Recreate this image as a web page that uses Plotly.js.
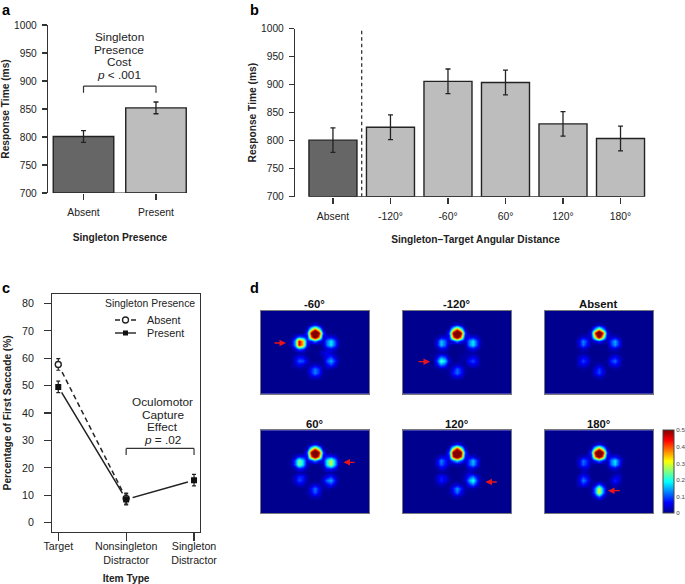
<!DOCTYPE html>
<html>
<head>
<meta charset="utf-8">
<script src="https://cdn.plot.ly/plotly-3.0.1.min.js"></script>
<style>html,body{margin:0;padding:0;background:#fff}#chart{width:685px;height:584px}</style>
</head>
<body>
<div id="chart"></div>
<script>
// ---------- data ----------
var presenceCats = ['Absent', 'Present'];
var presenceRT = [801, 852];
var presenceErr = [10.5, 10.5];

var angleCats = ['Absent', '-120°', '-60°', '60°', '120°', '180°'];
var angleRT = [801, 824, 906, 904, 830, 804];
var angleErr = [22, 22, 22, 22, 22, 22];

var itemCats = ['Target', 'Nonsingleton<br>Distractor', 'Singleton<br>Distractor'];
var absentPct = [57.7, 8.8];
var absentErr = [2.1, 2];
var presentPct = [49.5, 8.5, 15.5];
var presentErr = [2.1, 2, 2.1];

var yTicksRT = [700, 750, 800, 850, 900, 950, 1000];
var yTicksPct = [0, 10, 20, 30, 40, 50, 60, 70, 80];

// heat maps: fixation density in hundredths, read cell by cell
var gridX = [26, 30, 34, 38, 42, 46, 50, 54, 58, 62, 66, 70, 74, 78, 82];
var gridY = [10, 14, 18, 22, 26, 30, 34, 38, 42, 46, 50, 54, 58, 62, 66, 70];
var scaleTicks = [0, 10, 20, 30, 40, 50];
var scaleLabels = ['0', '0.1', '0.2', '0.3', '0.4', '0.5'];

var heatMinus60 = [
[0,0,0,0,0,0,0,0,0,0,0,0,0,0,0],
[0,0,0,0,0,0,2,6,2,0,0,0,0,0,0],
[0,0,0,0,0,2,22,38,22,2,0,0,0,0,0],
[0,0,0,0,0,9,48,70,48,9,0,0,0,0,0],
[0,0,4,11,9,5,38,60,38,4,5,5,3,0,0],
[0,2,14,46,34,7,7,14,7,3,12,18,10,1,0],
[0,2,14,46,34,6,0,0,0,2,12,18,10,1,0],
[0,0,4,11,9,1,0,0,0,1,4,5,3,0,0],
[0,0,0,1,1,0,0,0,1,4,5,3,1,0,0],
[0,0,3,6,5,1,0,0,0,2,6,9,4,0,0],
[0,0,4,11,10,4,0,0,0,1,10,15,8,1,0],
[0,0,3,5,4,1,2,4,2,1,5,9,4,0,0],
[0,0,0,1,0,1,7,12,8,1,1,1,0,0,0],
[0,0,0,0,0,1,7,13,8,1,0,0,0,0,0],
[0,0,0,0,0,0,3,4,3,0,0,0,0,0,0],
[0,0,0,0,0,0,0,0,0,0,0,0,0,0,0]];

var heatMinus120 = [
[0,0,0,0,0,0,0,0,0,0,0,0,0,0,0],
[0,0,0,0,0,0,2,6,2,0,0,0,0,0,0],
[0,0,0,0,0,2,22,38,22,2,0,0,0,0,0],
[0,0,0,0,0,9,48,70,48,9,0,0,0,0,0],
[0,0,1,4,4,5,38,60,38,4,5,5,3,0,0],
[0,0,5,16,11,3,7,14,7,3,12,18,9,1,0],
[0,0,5,16,11,2,0,0,0,1,12,18,9,1,0],
[0,0,1,4,4,0,0,0,0,0,4,5,3,0,0],
[0,0,1,1,1,0,0,0,0,1,1,1,0,0,0],
[0,0,5,12,9,1,0,0,1,1,3,5,3,0,0],
[0,0,9,23,17,4,0,0,1,1,7,10,5,0,0],
[0,0,5,12,9,1,2,3,2,0,3,5,3,0,0],
[0,0,0,1,1,1,5,11,7,1,0,0,0,0,0],
[0,0,0,0,0,1,7,12,7,1,0,0,0,0,0],
[0,0,0,0,0,0,3,4,3,0,0,0,0,0,0],
[0,0,0,0,0,0,0,0,0,0,0,0,0,0,0]];

var heatAbsent = [
[0,0,0,0,0,0,0,0,0,0,0,0,0,0,0],
[0,0,0,0,0,0,1,3,1,0,0,0,0,0,0],
[0,0,0,0,0,1,14,28,14,1,0,0,0,0,0],
[0,0,0,0,0,6,42,68,42,6,0,0,0,0,0],
[0,0,1,4,3,3,30,55,30,3,3,4,1,0,0],
[0,0,5,13,8,1,4,9,4,1,9,15,7,0,0],
[0,0,4,12,6,1,0,0,0,0,8,14,7,0,0],
[0,0,1,3,1,0,0,0,0,0,3,3,1,0,0],
[0,0,0,1,0,0,0,0,0,0,0,1,0,0,0],
[0,0,3,5,4,0,0,0,0,0,4,6,3,0,0],
[0,0,4,10,6,1,0,0,0,1,8,12,5,0,0],
[0,0,3,5,3,0,1,3,1,0,4,6,3,0,0],
[0,0,0,1,0,0,4,9,4,0,0,1,0,0,0],
[0,0,0,0,0,0,5,10,5,0,0,0,0,0,0],
[0,0,0,0,0,0,1,3,1,0,0,0,0,0,0],
[0,0,0,0,0,0,0,0,0,0,0,0,0,0,0]];

var heatPlus60 = [
[0,0,0,0,0,0,0,0,0,0,0,0,0,0,0],
[0,0,0,0,0,0,2,6,2,0,0,0,0,0,0],
[0,0,0,0,0,2,22,38,22,2,0,0,0,0,0],
[0,0,0,0,0,9,48,70,48,9,0,0,0,0,0],
[0,0,2,7,6,5,38,60,38,5,7,8,5,0,0],
[0,1,10,25,17,4,7,14,7,4,19,29,15,2,0],
[0,1,10,25,17,3,0,0,0,3,19,29,15,2,0],
[0,0,2,7,6,1,0,0,0,1,7,8,5,0,0],
[0,0,0,1,1,0,0,0,0,0,1,1,0,0,0],
[0,0,3,8,7,1,0,0,0,1,5,8,3,0,0],
[0,0,4,10,7,1,0,0,0,4,12,15,7,0,0],
[0,0,1,4,3,0,2,4,2,1,5,8,3,0,0],
[0,0,0,0,0,1,6,12,6,1,1,1,0,0,0],
[0,0,0,0,0,1,5,11,5,0,0,0,0,0,0],
[0,0,0,0,0,0,2,3,2,0,0,0,0,0,0],
[0,0,0,0,0,0,0,0,0,0,0,0,0,0,0]];

var heatPlus120 = [
[0,0,0,0,0,0,0,0,0,0,0,0,0,0,0],
[0,0,0,0,0,0,3,8,3,0,0,0,0,0,0],
[0,0,0,0,0,3,26,44,26,3,0,0,0,0,0],
[0,0,0,0,0,10,50,70,50,10,0,0,0,0,0],
[0,0,1,4,4,6,44,65,44,6,4,4,1,0,0],
[0,0,4,13,8,3,11,18,11,3,9,16,8,0,0],
[0,0,4,11,7,2,1,2,1,1,9,15,7,0,0],
[0,0,1,4,3,0,0,0,0,0,3,4,1,0,0],
[0,0,0,1,0,0,0,0,0,1,3,1,0,0,0],
[0,0,3,7,5,1,0,0,0,3,8,12,5,0,0],
[0,0,3,8,5,1,0,0,0,3,14,21,9,1,0],
[0,0,1,3,1,0,2,4,2,1,7,12,5,0,0],
[0,0,0,0,0,1,7,14,8,1,1,1,0,0,0],
[0,0,0,0,0,1,5,12,5,1,0,0,0,0,0],
[0,0,0,0,0,0,1,3,1,0,0,0,0,0,0],
[0,0,0,0,0,0,0,0,0,0,0,0,0,0,0]];

var heatPlus180 = [
[0,0,0,0,0,0,0,0,0,0,0,0,0,0,0],
[0,0,0,0,0,0,2,6,2,0,0,0,0,0,0],
[0,0,0,0,0,2,22,38,22,2,0,0,0,0,0],
[0,0,0,0,0,9,48,70,48,9,0,0,0,0,0],
[0,0,1,3,3,4,38,60,38,4,5,5,3,0,0],
[0,0,4,12,8,2,7,14,7,2,12,18,9,1,0],
[0,0,4,11,7,1,0,0,0,1,11,17,8,0,0],
[0,0,1,3,3,0,0,0,0,0,3,4,1,0,0],
[0,0,0,3,1,0,0,0,0,0,0,1,1,0,0],
[0,0,3,8,5,0,0,0,0,0,1,4,4,0,0],
[0,0,4,13,8,1,0,0,0,0,3,8,4,0,0],
[0,0,3,7,4,0,3,10,4,0,1,4,1,0,0],
[0,0,0,0,0,1,12,30,13,1,0,0,0,0,0],
[0,0,0,0,0,1,12,32,13,1,0,0,0,0,0],
[0,0,0,0,0,0,4,11,4,0,0,0,0,0,0],
[0,0,0,0,0,0,0,1,0,0,0,0,0,0,0]];

// ---------- styling and layout helpers ----------
var W = 685, H = 584;
var FONT = '"Liberation Sans", Arial, sans-serif';
var INK = '#222';
var AXIS = '#333';
var DARK_BAR = '#666666';
var LIGHT_BAR = '#bdbdbd';
var JET = [[0, '#00008f'], [0.125, '#0000ff'], [0.375, '#00ffff'], [0.625, '#ffff00'], [0.875, '#ff0000'], [1, '#800000']];

function px(x) { return x / W; }
function py(y) { return 1 - y / H; }
function note(x, y, text, size, extra) {
  return Object.assign({
    xref: 'paper', yref: 'paper', x: px(x), y: py(y), text: text, showarrow: false,
    xanchor: 'center', yanchor: 'middle', font: {family: FONT, size: size, color: INK}
  }, extra || {});
}
function arrow(tailX, headX, y) {
  return {
    xref: 'paper', yref: 'paper', x: px(headX), y: py(y), ax: tailX - headX, ay: 0, text: '',
    showarrow: true, arrowhead: 2, arrowsize: 1, arrowwidth: 1.3, arrowcolor: '#e8141c', standoff: 0
  };
}
function xAxisSpec(left, right, range, labels, opts) {
  return Object.assign({
    domain: [px(left), px(right)], range: range, tickmode: 'array',
    tickvals: labels.map(function (_, i) { return i; }), ticktext: labels,
    ticks: 'outside', ticklen: 6, tickwidth: 1.2, tickcolor: AXIS, showline: false, zeroline: false,
    showgrid: false, fixedrange: true, ticklabelstandoff: 4,
    tickfont: {family: FONT, size: 10.4, color: INK}
  }, opts || {});
}
function yAxisSpec(top, bottom, range, vals, opts) {
  return Object.assign({
    domain: [py(bottom), py(top)], range: range, tickmode: 'array', tickvals: vals, ticktext: vals.map(String),
    ticks: 'outside', ticklen: 5, tickwidth: 1.2, tickcolor: AXIS, showline: true, linecolor: AXIS, linewidth: 1.2,
    zeroline: false, showgrid: false, fixedrange: true, ticklabelstandoff: 3,
    tickfont: {family: FONT, size: 10.2, color: INK}
  }, opts || {});
}
function titleSpec(text, standoff) {
  return {text: text, standoff: standoff, font: {family: FONT, size: 10.2, color: INK, weight: 'bold'}};
}

var layout = {
  width: W, height: H, margin: {l: 0, r: 0, t: 0, b: 0}, showlegend: false,
  paper_bgcolor: '#fff', plot_bgcolor: 'rgba(0,0,0,0)', shapes: [], annotations: [], font: {family: FONT}
};
var traces = [];

function barTrace(cats, vals, errs, xa, ya) {
  return {
    type: 'bar', x: cats.map(function (_, i) { return i; }), y: vals.map(function (v) { return v - 700; }), base: 700, width: 0.835, xaxis: xa, yaxis: ya,
    marker: {color: cats.map(function (c) { return c === 'Absent' ? DARK_BAR : LIGHT_BAR; }), line: {color: INK, width: 1.4}},
    error_y: {type: 'data', array: errs, visible: true, color: INK, thickness: 1.3, width: 2.5}
  };
}
// panel a
layout.xaxis = xAxisSpec(48, 192, [-0.49, 1.497], presenceCats, {anchor: 'y', title: titleSpec('Singleton Presence', 16)});
layout.yaxis = yAxisSpec(25, 193, [700, 1000], yTicksRT, {anchor: 'x', title: titleSpec('Response Time (ms)', 4)});
traces.push(barTrace(presenceCats, presenceRT, presenceErr, 'x', 'y'));
// panel b
layout.xaxis2 = xAxisSpec(295, 656, [-0.66, 5.617], angleCats, {anchor: 'y2', title: titleSpec('Singleton–Target Angular Distance', 14)});
layout.yaxis2 = yAxisSpec(28.7, 196.7, [700, 1000], yTicksRT, {anchor: 'x2', title: titleSpec('Response Time (ms)', 2)});
traces.push(barTrace(angleCats, angleRT, angleErr, 'x2', 'y2'));

// baselines, bracket and divider in panels a, b
function seg(xr, yr, x0, y0, x1, y1, extra) {
  return Object.assign({type: 'line', xref: xr, yref: yr, x0: x0, y0: y0, x1: x1, y1: y1, line: {color: AXIS, width: 1.2}}, extra || {});
}
layout.shapes.push(seg('x', 'y', 0, 700, 1, 700));
layout.shapes.push(seg('x2', 'y2', 0, 700, 5, 700));
layout.shapes.push(seg('x2', 'y2', 0.5, 700, 0.5, 1000, {line: {color: INK, width: 1.2, dash: '3.5px,3px'}}));
layout.shapes.push(seg('x', 'y', 0, 891, 1, 891));
layout.shapes.push(seg('x', 'y', 0, 891, 0, 879));
layout.shapes.push(seg('x', 'y', 1, 891, 1, 879));

// panel c
layout.xaxis3 = xAxisSpec(52.3, 200, [-0.088, 2.088], itemCats, {
  anchor: 'y3', ticklen: 8, ticklabelstandoff: -4, showline: true, linecolor: AXIS, linewidth: 1.3, mirror: true,
  tickfont: {family: FONT, size: 10.7, color: INK}, title: titleSpec('Item Type', 12)
});
layout.yaxis3 = yAxisSpec(294, 531.7, [-3.28, 83.4], yTicksPct, {
  anchor: 'x3', mirror: true, linewidth: 1.3, ticklen: 7, ticklabelstandoff: 8,
  tickfont: {family: FONT, size: 10.7, color: INK}, title: titleSpec('Percentage of First Saccade (%)', 8)
});
var absentX = [0, 1], presentX = [0, 1, 2];
traces.push({type: 'scatter', mode: 'lines', x: absentX, y: absentPct, xaxis: 'x3', yaxis: 'y3', line: {color: INK, width: 1.5, dash: '5px,3.5px'}});
traces.push({type: 'scatter', mode: 'lines', x: presentX, y: presentPct, xaxis: 'x3', yaxis: 'y3', line: {color: INK, width: 1.5}});
traces.push({type: 'scatter', mode: 'markers', x: absentX, y: absentPct, xaxis: 'x3', yaxis: 'y3', marker: {color: '#fff', size: 13}, cliponaxis: true});
traces.push({type: 'scatter', mode: 'markers', x: presentX, y: presentPct, xaxis: 'x3', yaxis: 'y3', marker: {color: '#fff', size: 13}, cliponaxis: true});
traces.push({type: 'scatter', mode: 'markers', x: absentX, y: absentPct, xaxis: 'x3', yaxis: 'y3',
  marker: {symbol: 'circle', size: 6, color: '#fff', line: {color: INK, width: 1.4}},
  error_y: {type: 'data', array: absentErr, visible: true, color: INK, thickness: 1.2, width: 2}});
traces.push({type: 'scatter', mode: 'markers', x: presentX, y: presentPct, xaxis: 'x3', yaxis: 'y3',
  marker: {symbol: 'square', size: 6, color: '#111'},
  error_y: {type: 'data', array: presentErr, visible: true, color: INK, thickness: 1.2, width: 2}});
layout.shapes.push(seg('x3', 'y3', 1, 27.1, 2, 27.1));
layout.shapes.push(seg('x3', 'y3', 1, 27.1, 1, 24.7));
layout.shapes.push(seg('x3', 'y3', 2, 27.1, 2, 24.7));

// panel c legend key
function pline(x0, y0, x1, y1, dash) {
  return {type: 'line', xref: 'paper', yref: 'paper', x0: px(x0), y0: py(y0), x1: px(x1), y1: py(y1), line: {color: INK, width: 1.4, dash: dash || 'solid'}};
}
layout.shapes.push(pline(115, 320, 136, 320, '5px,3px'));
layout.shapes.push({type: 'circle', xref: 'paper', yref: 'paper', x0: px(122.5), x1: px(128.5), y0: py(323), y1: py(317), fillcolor: '#fff', line: {color: INK, width: 1.3}});
layout.shapes.push(pline(115, 333, 136, 333));
layout.shapes.push({type: 'rect', xref: 'paper', yref: 'paper', x0: px(123), x1: px(128), y0: py(335.5), y1: py(330.5), fillcolor: '#111', line: {width: 0}});

// panel d heat maps
var panels = [
  {z: heatMinus60, left: 260.7, top: 310.7, title: '-60°'},
  {z: heatMinus120, left: 402.7, top: 310.7, title: '-120°'},
  {z: heatAbsent, left: 544.7, top: 310.7, title: 'Absent'},
  {z: heatPlus60, left: 260.7, top: 430.3, title: '60°'},
  {z: heatPlus120, left: 402.7, top: 430.3, title: '120°'},
  {z: heatPlus180, left: 544.7, top: 430.3, title: '180°'}
];
panels.forEach(function (p, i) {
  var n = i + 4, xn = 'xaxis' + n, yn = 'yaxis' + n, xa = 'x' + n, ya = 'y' + n;
  layout[xn] = {domain: [px(p.left), px(p.left + 108.3)], range: [0, 108.3], anchor: ya, visible: true, showticklabels: false, ticks: '',
    showgrid: false, zeroline: false, showline: true, mirror: true, linecolor: '#77797f', linewidth: 1, fixedrange: true};
  layout[yn] = {domain: [py(p.top + 83), py(p.top)], range: [83, 0], anchor: xa, visible: true, showticklabels: false, ticks: '',
    showgrid: false, zeroline: false, showline: true, mirror: true, linecolor: '#77797f', linewidth: 1, fixedrange: true};
  layout.shapes.push({type: 'rect', layer: 'below', xref: xa + ' domain', yref: ya + ' domain', x0: 0, x1: 1, y0: 0, y1: 1, fillcolor: '#00008f', line: {width: 0}});
  layout.annotations.push(note(p.left + 54.2, p.top - 6.7, p.title, 11.3, {font: {family: FONT, size: 11.3, color: '#111', weight: 'bold'}}));
  var t = {type: 'heatmap', x: gridX, y: gridY, z: p.z, zmin: 0, zmax: 50, zsmooth: 'best', colorscale: JET, xaxis: xa, yaxis: ya, showscale: false, hoverinfo: 'skip'};
  if (i === 5) {
    t.showscale = true;
    t.colorbar = {x: px(662.7), xanchor: 'left', y: py(513.3), yanchor: 'bottom', len: 83 / H, lenmode: 'fraction', thickness: 10.6, thicknessmode: 'pixels',
      xpad: 0, ypad: 0, outlinecolor: '#444', outlinewidth: 1, ticks: '', tickmode: 'array', tickvals: scaleTicks, ticktext: scaleLabels,
      tickfont: {family: FONT, size: 6.2, color: '#444'}};
  }
  traces.push(t);
});

// arrows marking the singleton location
layout.annotations.push(arrow(273, 286, 343));
layout.annotations.push(arrow(417, 430, 361.7));
layout.annotations.push(arrow(356, 343.5, 462.3));
layout.annotations.push(arrow(498.3, 485.5, 482));
layout.annotations.push(arrow(621.3, 608, 490.7));

// text
var NOTE_SIZE = 11.8;
layout.annotations.push(note(119.5, 37, 'Singleton', NOTE_SIZE));
layout.annotations.push(note(119.5, 49.5, 'Presence', NOTE_SIZE));
layout.annotations.push(note(119.5, 62, 'Cost', NOTE_SIZE));
layout.annotations.push(note(119.5, 74.5, '<i>p</i> < .001', NOTE_SIZE));
layout.annotations.push(note(162.5, 402, 'Oculomotor', NOTE_SIZE));
layout.annotations.push(note(162.5, 414.5, 'Capture', NOTE_SIZE));
layout.annotations.push(note(162.5, 427, 'Effect', NOTE_SIZE));
layout.annotations.push(note(162.5, 439.5, '<i>p</i> = .02', NOTE_SIZE));
layout.annotations.push(note(150, 303.5, 'Singleton Presence', 10.4));
layout.annotations.push(note(145, 320, 'Absent', 10.8, {xanchor: 'left'}));
layout.annotations.push(note(145, 333, 'Present', 10.8, {xanchor: 'left'}));
function letter(x, y, t) {
  return note(x, y, t, 14.5, {xanchor: 'left', borderpad: 0, font: {family: FONT, size: 14.5, color: '#000', weight: 'bold'}});
}
layout.annotations.push(letter(1, 9.6, 'a'));
layout.annotations.push(letter(249, 9.6, 'b'));
layout.annotations.push(letter(1, 288, 'c'));
layout.annotations.push(letter(249, 288, 'd'));

Plotly.newPlot('chart', traces, layout, {displayModeBar: false, staticPlot: true});
</script>
</body>
</html>
